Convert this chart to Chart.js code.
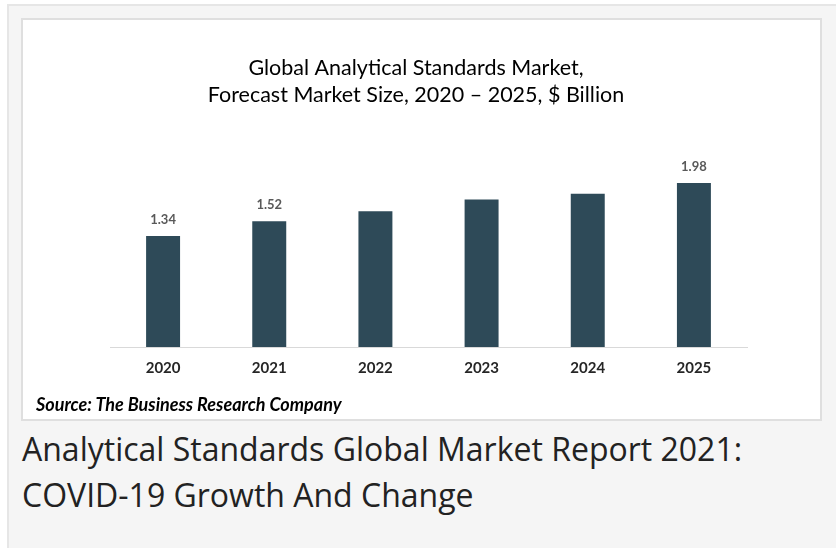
<!DOCTYPE html>
<html>
<head>
<meta charset="utf-8">
<script src="https://cdn.jsdelivr.net/npm/chart.js@4.4.0/dist/chart.umd.min.js"></script>
<style>
  html, body { margin: 0; padding: 0; background: #fff; overflow: hidden; }
  body { width: 836px; height: 548px; position: relative; }
  .outer {
    position: absolute; left: 7px; top: 4px; width: 840px; height: 560px;
    border-left: 2px solid #e6e6e6; border-top: 2px solid #e6e6e6;
    background: #f5f5f5;
  }
  .box {
    position: absolute; left: 21px; top: 18px; width: 801px; height: 403px;
    box-sizing: border-box; border: 2px solid #dfdfdf; background: #fff;
  }
  .chart-wrap { position: absolute; left: 0; top: 0; width: 797px; height: 399px; }
  .source {
    position: absolute; left: 13px; top: 373px;
    font-family: Lato, sans-serif; font-weight: bold; font-style: italic;
    font-size: 18px; color: #000; white-space: nowrap;
  }
  .caption {
    position: absolute; left: 22px; top: 426px;
    font-family: "Open Sans", sans-serif; font-size: 32px; line-height: 46px;
    color: #222;
  }
</style>
</head>
<body>
<div class="outer"></div>
<div class="box">
  <div class="chart-wrap"><canvas id="chart"></canvas></div>
  <div class="source">Source: The Business Research Company</div>
</div>
<div class="caption">Analytical Standards Global Market Report 2021:<br>COVID-19 Growth And Change</div>

<script>
// Dados do gráfico
const anos = ["2020", "2021", "2022", "2023", "2024", "2025"];
const valores = [1.34, 1.52, 1.64, 1.78, 1.85, 1.98];
const mostrarRotulo = [true, true, false, false, false, true]; // só alguns anos têm o valor escrito
const tituloLinhas = ["Global Analytical Standards Market,", "Forecast Market Size, 2020 – 2025, $ Billion"];

const chartCanvas = document.querySelector("#chart");

// Plugin simples para escrever o valor acima das barras
const rotulosPlugin = {
  id: "rotulos",
  afterDatasetsDraw: (chart) => {
    const ctx = chart.ctx;
    const meta = chart.getDatasetMeta(0);
    ctx.save();
    ctx.font = "bold 13px Lato, sans-serif";
    ctx.fillStyle = "#595959";
    ctx.textAlign = "center";
    ctx.textBaseline = "middle";
    meta.data.forEach((bar, i) => {
      if (!mostrarRotulo[i]) return;
      ctx.fillText(valores[i].toFixed(2), bar.x, bar.y - 16);
    });
    ctx.restore();
  },
};

const chart = new Chart(chartCanvas.getContext("2d"), {
  type: "bar",
  data: {
    labels: anos,
    datasets: [
      {
        data: valores,
        backgroundColor: "#2e4a58",
        borderWidth: 0,
        categoryPercentage: 1,
        barPercentage: 0.32,
      },
    ],
  },
  options: {
    responsive: true,
    maintainAspectRatio: false,
    animation: false,
    layout: { padding: { left: 62, right: 73, top: 0, bottom: 30 } },
    plugins: {
      legend: { display: false },
      tooltip: { enabled: false },
      title: {
        display: true,
        text: tituloLinhas,
        color: "#000",
        font: { family: "Lato, sans-serif", size: 21.5, weight: "normal", lineHeight: 27 / 21.5 },
        padding: { top: 35, bottom: 31 },
      },
    },
    scales: {
      x: {
        grid: { display: false, drawTicks: false },
        border: { display: true, color: "#d9d9d9", width: 1 },
        ticks: {
          color: "#262626",
          padding: 12,
          font: { family: "Lato, sans-serif", size: 15, weight: "bold" },
        },
      },
      y: {
        min: 0,
        max: 2.5,
        grid: { display: false, drawTicks: false },
        border: { display: false },
        ticks: { display: false },
        afterFit: (scale) => { scale.width = 25; }, // espaço vazio à esquerda do eixo
      },
    },
  },
  plugins: [rotulosPlugin],
});
</script>
</body>
</html>
